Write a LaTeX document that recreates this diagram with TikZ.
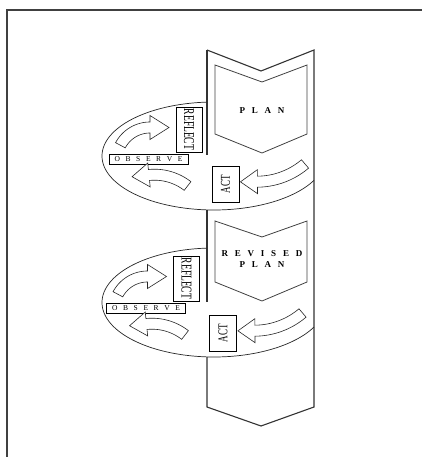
\documentclass[tikz,border=0pt]{standalone}
\usepackage{fontspec}
\setmainfont{Liberation Serif}
\newcommand{\gp}{\hspace{0.75em}}
\newcommand{\blockarc}[9]{%
 \draw[blockarrow] plot[domain=#4:#5,samples=30] ({#1+(#3+#7)*cos(\x)},{#2+(#3+#7)*sin(\x)})
  -- ({#1+(#3+#8)*cos(#5)},{#2+(#3+#8)*sin(#5)})
  -- ({#1+#3*cos(#5)+#9*cos(#5+(#6))},{#2+#3*sin(#5)+#9*sin(#5+(#6))})
  -- ({#1+(#3-#8)*cos(#5)},{#2+(#3-#8)*sin(#5)})
  -- plot[domain=#5:#4,samples=30] ({#1+(#3-#7)*cos(\x)},{#2+(#3-#7)*sin(\x)})
  -- cycle;}
\begin{document}
\begin{tikzpicture}[x=1pt,y=-1pt,
  frame/.style={line width=1.2pt,draw=black!75},
  band/.style={line width=1.1pt,draw=black!80},
  chev/.style={line width=0.8pt,draw=black!75,line join=miter},
  ring/.style={line width=0.7pt,draw=black!85},
  lbl/.style={draw=black,line width=0.9pt,fill=white,inner sep=0pt},
  blockarrow/.style={draw=black!85,line width=0.6pt,fill=white,line join=miter},
  plantext/.style={font=\fontsize{9}{10.5}\selectfont\bfseries,align=center}]
\useasboundingbox (0,0) rectangle (422,457);
% frame
\draw[frame] (7,457) -- (7,10) -- (422,10);
% band (pillar)
\draw[band] (207,50) -- (261,71) -- (314,50) -- (314,407) -- (261,426) -- (207,407) -- (207,357);
\draw[band] (207,50) -- (207,155);
\draw[band] (207,210) -- (207,302);
% inner chevrons
\draw[chev] (215,65) -- (262,82) -- (307,65) -- (307,134) -- (262,153) -- (215,134) -- cycle;
\draw[chev] (215,221) -- (262,237) -- (307,221) -- (307,282) -- (262,301) -- (215,282) -- cycle;
\node[plantext] (plan1) at (262,110.5) {P\gp L\gp A\gp N};
\node[plantext] (plan2) at (262,259) {R\gp E\gp V\gp I\gp S\gp E\gp D\\P\gp L\gp A\gp N};
% rings
\draw[ring] plot[domain=26.8:266.4,samples=120] ({214+112*cos(\x)},{156+54*sin(\x)});
\draw[ring] plot[domain=26.8:266.4,samples=120] ({214+112*cos(\x)},{302.5+54.5*sin(\x)});
% cycle contents
\foreach \dx/\dy/\k in {0/0/1,-2.5/149/2}{
\begin{scope}[shift={(\dx,\dy)}]
  \node[lbl,rotate=-90,minimum width=45,minimum height=26,font=\fontsize{10}{10}\selectfont] (reflect\k) at (189,129.5) {\scalebox{0.95}[1.5]{REFLECT}};
  \node[lbl,line width=0.6pt,minimum width=79,minimum height=10,font=\fontsize{7.5}{8}\selectfont] (observe\k) at (148.5,159) {O\hspace{0.75em}B\hspace{0.75em}S\hspace{0.75em}E\hspace{0.75em}R\hspace{0.75em}V\hspace{0.75em}E};
  \node[lbl,rotate=90,minimum width=36,minimum height=27,font=\fontsize{9}{9}\selectfont] (act\k) at (225.5,184) {\scalebox{1}[1.5]{ACT}};
  \blockarc{150}{161}{33.5}{-152}{-90}{90}{5.5}{12}{19}
  \blockarc{154.5}{228.6}{53.9}{-52.2}{-95.9}{-90}{5.5}{12}{17}
  \blockarc{256.8}{107.3}{74.4}{49.6}{89.5}{90}{5.5}{12}{17}
\end{scope}}
\end{tikzpicture}
\end{document}
